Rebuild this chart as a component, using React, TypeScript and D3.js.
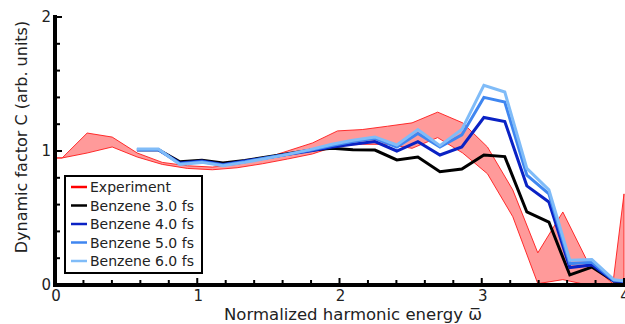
import React from "react";
import * as d3 from "d3";

const expX = [0, 0.05, 0.226, 0.402, 0.578, 0.754, 0.93, 1.106, 1.28, 1.46, 1.634, 1.81, 1.986, 2.16, 2.338, 2.51, 2.69, 2.866, 3.04, 3.218, 3.394, 3.57, 3.746, 3.922, 4.0];
const expLower = [0.948, 0.948, 0.985, 1.03, 0.955, 0.9, 0.87, 0.86, 0.875, 0.905, 0.94, 0.978, 1.04, 1.05, 1.05, 1.02, 1.1, 0.985, 0.83, 0.51, 0.01, 0.04, 0.0, 0.0, 0.0];
const expUpper = [0.948, 0.948, 1.134, 1.104, 0.985, 0.915, 0.89, 0.88, 0.9, 0.94, 1.0, 1.06, 1.15, 1.16, 1.185, 1.21, 1.29, 1.21, 1.03, 0.71, 0.24, 0.545, 0.17, 0.01, 0.68];

const thX = [0.576, 0.727, 0.878, 1.033, 1.181, 1.335, 1.49, 1.637, 1.792, 1.947, 2.094, 2.249, 2.403, 2.551, 2.706, 2.86, 3.015, 3.162, 3.317, 3.472, 3.619, 3.774, 3.928, 4.08];
const benz30 = [1.01, 1.01, 0.92, 0.93, 0.91, 0.93, 0.955, 0.98, 1.005, 1.02, 1.01, 1.007, 0.933, 0.955, 0.845, 0.866, 0.97, 0.958, 0.545, 0.47, 0.075, 0.134, 0.03, 0.02];
const benz40 = [1.01, 1.01, 0.91, 0.925, 0.9, 0.925, 0.95, 0.975, 1.0, 1.03, 1.05, 1.07, 1.0, 1.07, 0.97, 1.03, 1.25, 1.22, 0.74, 0.62, 0.13, 0.15, 0.03, 0.02];
const benz50 = [1.01, 1.01, 0.905, 0.92, 0.895, 0.92, 0.95, 0.975, 1.005, 1.04, 1.07, 1.095, 1.03, 1.13, 1.03, 1.12, 1.4, 1.365, 0.82, 0.68, 0.16, 0.17, 0.035, 0.02];
const benz60 = [1.015, 1.015, 0.9, 0.915, 0.89, 0.915, 0.945, 0.975, 1.01, 1.05, 1.08, 1.105, 1.045, 1.16, 1.04, 1.16, 1.49, 1.44, 0.87, 0.71, 0.185, 0.19, 0.04, 0.02];

const seriesNames = ["Benzene 3.0 fs", "Benzene 4.0 fs", "Benzene 5.0 fs", "Benzene 6.0 fs"];
const seriesColors = ["#000000", "#0a22c4", "#3f86f0", "#80bcf8"];
const seriesData = [benz30, benz40, benz50, benz60];
const legendNames = ["Experiment", ...seriesNames];
const legendColors = ["#ff0000", ...seriesColors];

const xTicksMajor = [0, 1, 2, 3, 4];
const yTicksMajor = [0, 1, 2];

export default function App() {
  const W = 625, H = 324;
  const x = d3.scaleLinear().domain([0, 4]).range([55, 624]);
  const y = d3.scaleLinear().domain([0, 2]).range([285, 17]);

  const band = d3
    .area<number>()
    .x((_, i) => x(expX[i]))
    .y0((_, i) => y(expLower[i]))
    .y1((_, i) => y(expUpper[i]));
  const line = d3
    .line<number>()
    .x((_, i) => x(thX[i]))
    .y((d) => y(d));

  const xMinor = d3.range(0, 4.0001, 0.2);
  const yMinor = d3.range(0, 2.0001, 0.2);
  const font = "DejaVu Sans, Verdana, sans-serif";

  return (
    <svg width={W} height={H} style={{ position: "absolute", left: 0, top: 0 }} fontFamily={font}>
      <defs>
        <clipPath id="plot">
          <rect x={x(0)} y={0} width={x(4) - x(0) + 1} height={y(0) + 1} />
        </clipPath>
      </defs>
      <g clipPath="url(#plot)">
        <path d={band(expX) || ""} fill="#ff9a9a" stroke="#ff1a1a" strokeWidth={0.9} strokeLinejoin="round" />
        {seriesData.map((s, k) => (
          <path key={k} d={line(s) || ""} fill="none" stroke={seriesColors[k]} strokeWidth={3} strokeLinejoin="miter" />
        ))}
      </g>
      {/* axes */}
      <line x1={x(0)} x2={x(0)} y1={y(2) - 2} y2={y(0) + 2} stroke="#000" strokeWidth={4} />
      <line x1={x(0) - 2} x2={W} y1={y(0)} y2={y(0)} stroke="#000" strokeWidth={4} />
      {xMinor.map((t, i) => (
        <line key={"xt" + i} x1={x(t)} x2={x(t)} y1={y(0)} y2={y(0) - (Math.abs(t - Math.round(t)) < 1e-6 ? 7 : 5)} stroke="#000" strokeWidth={2} />
      ))}
      {yMinor.map((t, i) => (
        <line key={"yt" + i} x1={x(0)} x2={x(0) + (Math.abs(t - Math.round(t)) < 1e-6 ? 7 : 5)} y1={y(t)} y2={y(t)} stroke="#000" strokeWidth={2} />
      ))}
      {xTicksMajor.map((t) => (
        <text key={"xl" + t} x={x(t) + 1} y={y(0) + 16} fontSize={15} textAnchor="middle" fill="#222">
          {t}
        </text>
      ))}
      {yTicksMajor.map((t) => (
        <text key={"yl" + t} x={x(0) - 4} y={y(t) + 5} fontSize={15} textAnchor="end" fill="#222">
          {t}
        </text>
      ))}
      <text x={353} y={320} fontSize={16.5} textAnchor="middle" fill="#222">
        Normalized harmonic energy {"\u03C9\u0305"}
      </text>
      <text transform={`translate(27,${137}) rotate(-90)`} fontSize={16} textAnchor="middle" fill="#222">
        Dynamic factor C (arb. units)
      </text>
      {/* legend */}
      <rect x={65} y={176} width={137} height={97} fill="#fff" stroke="#000" strokeWidth={2} />
      {legendNames.map((n, i) => (
        <g key={"lg" + i}>
          <line x1={71} x2={87} y1={187 + i * 18.5} y2={187 + i * 18.5} stroke={legendColors[i]} strokeWidth={2.5} />
          <text x={90} y={187 + i * 18.5 + 5} fontSize={14} fill="#222">
            {n}
          </text>
        </g>
      ))}
    </svg>
  );
}
